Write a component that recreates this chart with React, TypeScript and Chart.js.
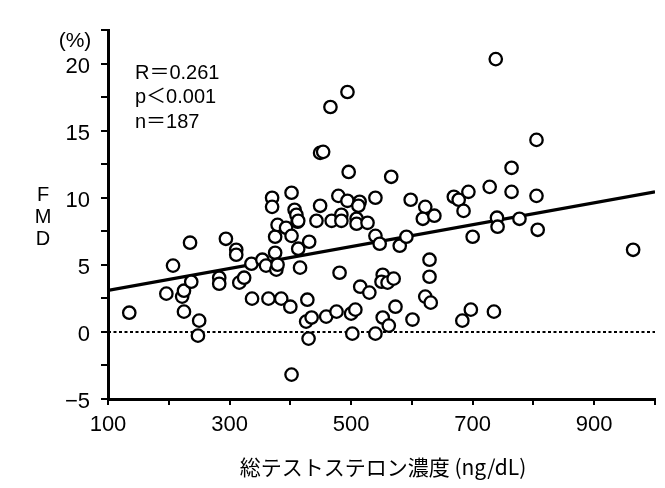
import React, { useEffect, useRef } from 'react';
import { Chart, registerables } from 'chart.js';

Chart.register(...registerables);

// Total testosterone concentration (ng/dL)
const testosterone = [
  135, 207, 235, 196, 222, 225, 225, 250, 248, 237,
  283, 283, 294, 311, 311, 316, 324, 336, 337, 354,
  360, 364, 375, 377, 379, 385, 400, 416, 413, 428,
  426, 430, 375, 379, 393, 402, 412, 431, 370, 370,
  402, 407, 410, 413, 402,
  449, 479, 494, 514, 512, 540, 443, 468, 484, 484,
  509, 509, 527, 540, 547, 580, 591, 449, 454, 496,
  466, 494, 566, 598, 622, 618, 637, 669, 677, 693,
  685, 700, 629, 728, 764, 764, 805, 740, 741, 777,
  807, 805, 738, 964,
  481, 515, 530, 552, 550, 560, 570, 629, 622, 631,
  435, 459, 476, 500, 507, 502, 540, 552, 562, 573,
  601, 683, 697, 735,
];

// FMD (%)
const fmd = [
  1.43, 4.94, 6.65, 2.85, 2.63, 3.07, 1.51, 0.84, -0.28, 3.74,
  4.04, 3.59, 6.94, 6.12, 5.75, 3.67, 4.04, 5.08, 2.48, 5.38,
  4.94, 2.48, 5.9, 4.64, 5.01, 2.48, 1.88, 4.79, 6.2, 2.4,
  0.77, -0.5, 7.09, 7.98, 7.76, 7.16, 8.21, 6.72, 10.0, 9.32,
  10.37, 9.1, 8.73, 8.28, -3.18,
  9.4, 10.14, 9.77, 9.7, 9.4, 10.0, 8.28, 8.28, 8.73, 8.28,
  8.43, 8.06, 8.13, 7.16, 6.57, 6.42, 7.09, 13.34, 13.42, 11.92,
  16.76, 17.88, 11.56, 9.85, 9.32, 8.43, 8.66, 10.07, 9.85, 10.44,
  9.02, 7.09, 5.38, 10.81, 12.23, 10.44, 10.14, 8.51, 7.84, 8.43,
  7.61, 14.31, 20.33, 6.12,
  4.41, 3.37, 2.93, 4.26, 3.74, 3.67, 3.97, 4.11, 2.63, 2.18,
  1.07, 1.14, 1.51, 1.36, 1.66, -0.13, -0.13, 1.07, 0.47, 1.88,
  0.92, 0.84, 1.66, 1.51,
];

// Regression line end points
const regressionX = [100, 1000];
const regressionY = [3.1, 10.44];

// Zero reference line
const zeroX = [100, 1000];
const zeroY = [0, 0];

const xLabelValues = [100, 300, 500, 700, 900];
const yLabelValues = [20, 15, 10, 5, 0, -5];

const statsLines = ['R\uFF1D0.261', 'p\uFF1C0.001', 'n\uFF1D187'];
const yTitleLetters = ['F', 'M', 'D'];
const yUnit = '(%)';
const xTitle = '総テストステロン濃度 (ng/dL)';

const NUM_FONT = "'Liberation Sans', Arial, sans-serif";
const TEXT_FONT = "'Liberation Sans', Arial, 'Noto Sans CJK JP', sans-serif";

const textPlugin = {
  id: 'fmdTexts',
  afterDraw(chart: any) {
    const ctx = chart.ctx as CanvasRenderingContext2D;
    ctx.save();
    ctx.fillStyle = '#000';
    ctx.textBaseline = 'middle';
    ctx.font = `20px ${TEXT_FONT}`;
    ctx.textAlign = 'left';
    statsLines.forEach((t, i) => ctx.fillText(t, 135, 73 + i * 24.5));
    ctx.textAlign = 'center';
    ctx.font = `21px ${TEXT_FONT}`;
    ctx.fillText(yUnit, 75, 41);
    ctx.font = `20px ${TEXT_FONT}`;
    yTitleLetters.forEach((c, i) => ctx.fillText(c, 43, 195 + i * 22));
    ctx.font = "21px 'Noto Sans CJK JP', sans-serif";
    ctx.fillText(xTitle, 383, 467);
    ctx.restore();
  },
};

export default function App() {
  const canvasRef = useRef<HTMLCanvasElement | null>(null);

  useEffect(() => {
    if (!canvasRef.current) return;
    const points = testosterone.map((x, i) => ({ x, y: fmd[i] }));
    const regression = regressionX.map((x, i) => ({ x, y: regressionY[i] }));
    const zero = zeroX.map((x, i) => ({ x, y: zeroY[i] }));

    const chart = new Chart(canvasRef.current, {
      type: 'scatter',
      data: {
        datasets: [
          {
            data: points,
            pointRadius: 6.2,
            pointBorderWidth: 2.3,
            borderColor: '#000',
            backgroundColor: '#fff',
            pointStyle: 'circle',
          } as any,
          {
            type: 'line',
            data: regression,
            borderColor: '#000',
            borderWidth: 3.2,
            pointRadius: 0,
            fill: false,
          } as any,
          {
            type: 'line',
            data: zero,
            borderColor: '#000',
            borderWidth: 2,
            borderDash: [3, 2.5],
            pointRadius: 0,
            fill: false,
          } as any,
        ],
      },
      options: {
        animation: false,
        responsive: false,
        maintainAspectRatio: false,
        layout: { padding: { top: 30, right: 10, left: 0, bottom: 0 } },
        plugins: {
          legend: { display: false },
          tooltip: { enabled: false },
        },
        scales: {
          x: {
            type: 'linear',
            min: 100,
            max: 1000,
            ticks: {
              stepSize: 100,
              autoSkip: false,
              maxRotation: 0,
              color: '#000',
              padding: 7,
              font: { size: 22, family: NUM_FONT },
              callback: (v: any) => (xLabelValues.includes(Number(v)) ? String(v) : ''),
            },
            grid: {
              drawOnChartArea: false,
              drawTicks: true,
              tickLength: 6,
              color: '#000',
              lineWidth: 2,
            },
            border: { display: true, width: 3, color: '#000' },
            afterFit: (s: any) => {
              s.height = 89;
            },
          },
          y: {
            type: 'linear',
            min: -5,
            max: 22.5,
            ticks: {
              stepSize: 2.5,
              autoSkip: false,
              color: '#000',
              padding: 11,
              labelOffset: 3,
              font: { size: 22, family: NUM_FONT },
              callback: (v: any) => {
                const n = Number(v);
                if (!yLabelValues.includes(n)) return '';
                return n < 0 ? '\u2212' + Math.abs(n) : String(n);
              },
            },
            grid: {
              drawOnChartArea: false,
              drawTicks: true,
              tickLength: 7,
              color: '#000',
              lineWidth: 2,
            },
            border: { display: true, width: 3, color: '#000' },
            afterFit: (s: any) => {
              s.width = 108;
            },
          },
        },
      } as any,
      plugins: [textPlugin],
    });

    return () => chart.destroy();
  }, []);

  return (
    <div style={{ position: 'fixed', left: 0, top: 0, width: 665, height: 488, background: '#fff' }}>
      <canvas ref={canvasRef} width={665} height={488} />
    </div>
  );
}
